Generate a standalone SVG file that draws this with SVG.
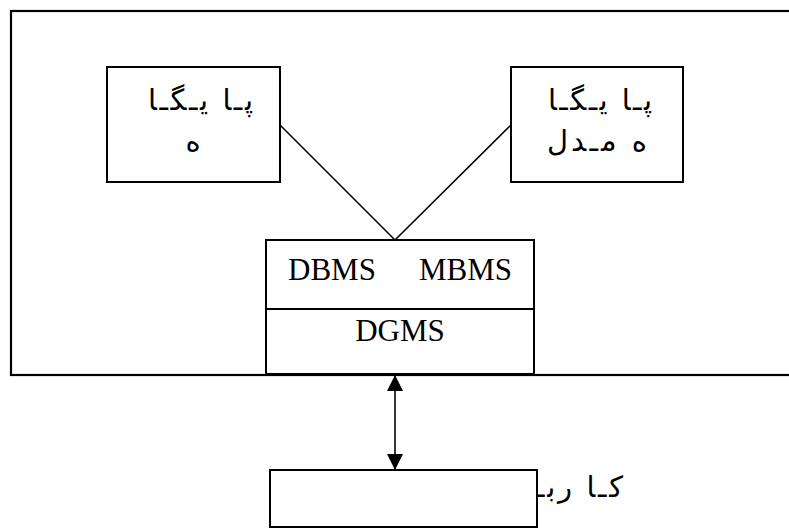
<svg xmlns="http://www.w3.org/2000/svg" width="789" height="528" viewBox="0 0 789 528">
<style>
.box{fill:#fff;stroke:#000;stroke-width:2}
.fa{font-family:"DejaVu Sans",sans-serif;font-size:29px;fill:#000}
.en{font-family:"Liberation Serif",serif;font-size:31px;fill:#000}
.ln{stroke:#000;stroke-width:1.6;fill:none}
</style>
<defs>
<marker id="ah" markerUnits="userSpaceOnUse" markerWidth="16" markerHeight="16" viewBox="0 0 16 16" refX="15" refY="8" orient="auto-start-reverse">
<path d="M0,0 L16,8 L0,16 Z" fill="#000"/>
</marker>
</defs>
<rect id="outer" x="11" y="11" width="790" height="364" fill="#fff" stroke="#000" stroke-width="2.2"/>
<g id="connectors">
<line class="ln" x1="280" y1="125" x2="395" y2="240"/>
<line class="ln" x1="511" y1="125" x2="395" y2="240"/>
<line class="ln" x1="395" y1="376" x2="395" y2="469" marker-start="url(#ah)" marker-end="url(#ah)"/>
</g>
<g id="db">
<rect class="box" x="107" y="67" width="173" height="115"/>
<text class="fa" x="148" y="110" textLength="105" lengthAdjust="spacing">پـا یـگـا</text>
<text class="fa" x="193" y="151" text-anchor="middle">ه</text>
</g>
<g id="mb">
<rect class="box" x="511" y="67" width="172" height="115"/>
<text class="fa" x="548" y="110" textLength="104" lengthAdjust="spacing">پـا یـگـا</text>
<text class="fa" x="547" y="151" textLength="100" lengthAdjust="spacing">ه  مـدل</text>
</g>
<g id="core">
<rect class="box" x="266" y="240" width="268" height="134"/>
<line x1="266" y1="309" x2="534" y2="309" stroke="#000" stroke-width="2"/>
<text class="en" x="288" y="280">DBMS</text>
<text class="en" x="419" y="280">MBMS</text>
<text class="en" x="400" y="341" text-anchor="middle">DGMS</text>
</g>
<g id="user">
<text class="fa" x="536" y="497" textLength="87" lengthAdjust="spacing">کـا ربـ</text>
<rect class="box" x="270" y="470" width="267" height="57"/>
</g>
</svg>
